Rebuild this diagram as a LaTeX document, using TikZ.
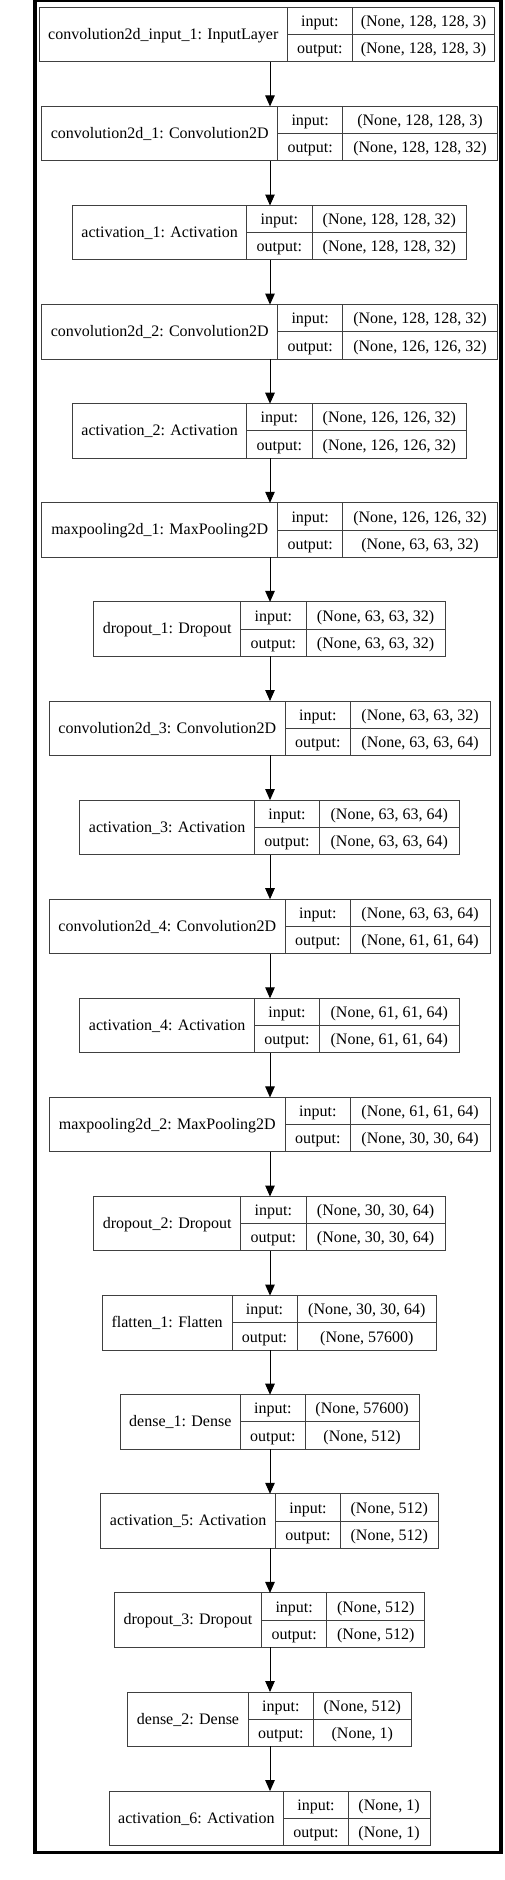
\documentclass[tikz,border=0pt]{standalone}
\usepackage{fontspec}
\setmainfont{Liberation Serif}
\usetikzlibrary{arrows.meta}
\tikzset{
  boxline/.style={draw=black!75, line width=0.9pt},
  outerbox/.style={boxline, rectangle, inner sep=0pt, outer sep=0pt},
  txt/.style={inner sep=0pt, anchor=base, font=\fontsize{16}{19}\selectfont},
  arr/.style={draw=black, line width=1pt, -{Triangle[length=11pt,width=9.5pt]}},
  framebox/.style={draw=black, line width=3.8pt}
}
% #1 index, #2 label, #3 left, #4 div1, #5 div2, #6 right, #7 input, #8 output
\newcommand\layerbox[8]{%
  \pgfmathsetmacro\ty{7.3+99.1*#1}%
  \pgfmathsetmacro\by{\ty+54.4}%
  \pgfmathsetmacro\my{\ty+27.2}%
  \pgfmathsetmacro\bw{#6-#3}%
  \pgfmathsetmacro\bx{(#3+#6)/2}%
  \node[outerbox, minimum width=\bw pt, minimum height=54.4pt] (b#1) at (\bx,\my) {};
  \draw[boxline] (#4,\ty) -- (#4,\by);
  \draw[boxline] (#5,\ty) -- (#5,\by);
  \draw[boxline] (#4,\my) -- (#6,\my);
  \node[txt] (n#1) at ({(#3+#4)/2},{\my+4.8}) {#2};
  \node[txt] (il#1) at ({(#4+#5)/2},{\ty+19.2}) {input:};
  \node[txt] (iv#1) at ({(#5+#6)/2},{\ty+19.2}) {#7};
  \node[txt] (ol#1) at ({(#4+#5)/2},{\my+19.2}) {output:};
  \node[txt] (ov#1) at ({(#5+#6)/2},{\my+19.2}) {#8};
}
\begin{document}
\begin{tikzpicture}[x=1pt,y=-1pt]
\useasboundingbox (0,0) rectangle (504,1880);
\fill[white] (0,0) rectangle (504,1880);
\draw[framebox] (34.7,0) rectangle (500.7,1852.5);
\coordinate (axis) at (270,0);
\layerbox{0}{convolution2d\_input\_1: InputLayer}{39.3}{287.3}{352.3}{494.7}{(None, 128, 128, 3)}{(None, 128, 128, 3)}
\layerbox{1}{convolution2d\_1: Convolution2D}{41.7}{277.7}{342.7}{497.3}{(None, 128, 128, 3)}{(None, 128, 128, 32)}
\layerbox{2}{activation\_1: Activation}{72.7}{246.7}{312}{466.7}{(None, 128, 128, 32)}{(None, 128, 128, 32)}
\layerbox{3}{convolution2d\_2: Convolution2D}{41.7}{277.7}{342.7}{497.3}{(None, 128, 128, 32)}{(None, 126, 126, 32)}
\layerbox{4}{activation\_2: Activation}{72.7}{246.7}{312}{466.7}{(None, 126, 126, 32)}{(None, 126, 126, 32)}
\layerbox{5}{maxpooling2d\_1: MaxPooling2D}{41.7}{277.7}{342.7}{497.3}{(None, 126, 126, 32)}{(None, 63, 63, 32)}
\layerbox{6}{dropout\_1: Dropout}{93.7}{240.7}{306}{445.3}{(None, 63, 63, 32)}{(None, 63, 63, 32)}
\layerbox{7}{convolution2d\_3: Convolution2D}{49.3}{285.3}{350.3}{490}{(None, 63, 63, 32)}{(None, 63, 63, 64)}
\layerbox{8}{activation\_3: Activation}{79.7}{254.7}{319.3}{459.3}{(None, 63, 63, 64)}{(None, 63, 63, 64)}
\layerbox{9}{convolution2d\_4: Convolution2D}{49.3}{285.3}{350.3}{490}{(None, 63, 63, 64)}{(None, 61, 61, 64)}
\layerbox{10}{activation\_4: Activation}{79.7}{254.7}{319.3}{459.3}{(None, 61, 61, 64)}{(None, 61, 61, 64)}
\layerbox{11}{maxpooling2d\_2: MaxPooling2D}{49.3}{285.3}{350.3}{490}{(None, 61, 61, 64)}{(None, 30, 30, 64)}
\layerbox{12}{dropout\_2: Dropout}{93.7}{240.7}{306}{445.3}{(None, 30, 30, 64)}{(None, 30, 30, 64)}
\layerbox{13}{flatten\_1: Flatten}{102.3}{232}{297}{436.7}{(None, 30, 30, 64)}{(None, 57600)}
\layerbox{14}{dense\_1: Dense}{120.3}{240.3}{305.3}{419}{(None, 57600)}{(None, 512)}
\layerbox{15}{activation\_5: Activation}{100.7}{275.7}{340.3}{438.3}{(None, 512)}{(None, 512)}
\layerbox{16}{dropout\_3: Dropout}{114.3}{261.7}{326.7}{424.7}{(None, 512)}{(None, 512)}
\layerbox{17}{dense\_2: Dense}{127.7}{248.3}{313.3}{411.3}{(None, 512)}{(None, 1)}
\layerbox{18}{activation\_6: Activation}{109}{283.7}{348.3}{430}{(None, 1)}{(None, 1)}
\foreach \i in {0,...,17}{
  \pgfmathtruncatemacro\j{\i+1}
  \draw[arr] (b\i.south -| axis) -- (b\j.north -| axis);
}
\end{tikzpicture}
\end{document}
